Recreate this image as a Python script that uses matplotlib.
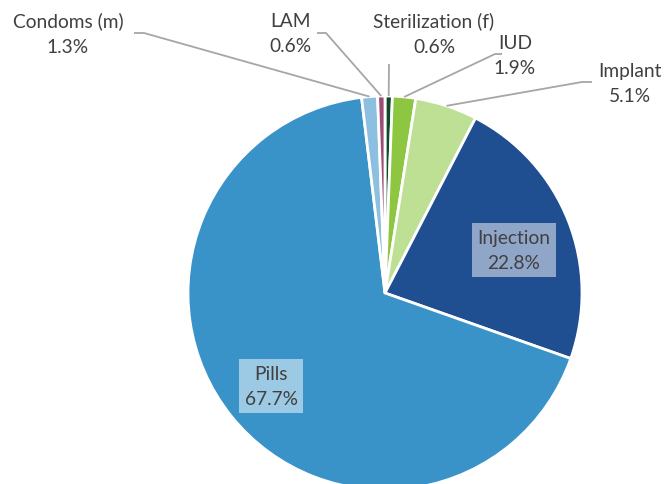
import numpy as np
import matplotlib
matplotlib.use("Agg")
import matplotlib.pyplot as plt

# slices in clockwise order from 12 o'clock
labels = ["Sterilization (f)", "IUD", "Implant", "Injection", "Pills", "Condoms (m)", "LAM"]
shares = [0.6, 1.9, 5.1, 22.8, 67.7, 1.3, 0.6]
colors = ["#0E4A28", "#8DC641", "#BEE095", "#1F4E91", "#3A93C8", "#8DC0E0", "#9E4C76"]

W, H = 665, 485
cx, cy, R = 385, 294, 197
txt_color = "#404040"
line_color = "#A6A6A6"

plt.rcParams["font.family"] = ["Lato", "DejaVu Sans"]

fig = plt.figure(figsize=(W / 100, H / 100), dpi=100)
ax = fig.add_axes([0, 0, 1, 1])


def fy(y):
    # convert image-style y (top down) to axis y
    return H - y


ax.pie(shares, colors=colors, center=(cx, fy(cy)), radius=R, startangle=90,
       counterclock=False, wedgeprops=dict(edgecolor="white", linewidth=2))

ax.set_xlim(0, W)
ax.set_ylim(0, H)
ax.set_aspect("equal")
ax.axis("off")

# mid-angle of each slice on the rim (image coordinates)
cum = np.cumsum([0] + shares)
mids = (cum[:-1] + cum[1:]) / 2 / 100 * 360


def rim(i):
    a = np.deg2rad(mids[i])
    return cx + R * np.sin(a), cy - R * np.cos(a)


fs = 13.8
ls = 1.6
pct = [f"{s:.1f}%" for s in shares]

# outside labels: text centre, leader elbow, leader end near text
outside = {
    5: ((68, 34), [(144, 34), (134, 34)]),
    6: ((290, 34), [(326, 34), (317, 34)]),
    0: ((434, 34), [(389, 65)]),
    1: ((515, 56), [(495, 55), (502, 55)]),
    2: ((630, 84), [(582, 83), (592, 83)]),
}
for i, ((tx, ty), pts) in outside.items():
    ax.text(tx, fy(ty), f"{labels[i]}\n{pct[i]}", ha="center", va="center",
            fontsize=fs, color=txt_color, linespacing=ls)
    x0, y0 = rim(i)
    xs = [x0] + [p[0] for p in pts]
    ys = [fy(y0)] + [fy(p[1]) for p in pts]
    ax.plot(xs, ys, color=line_color, lw=1.3, solid_capstyle="butt")

# inside labels with translucent boxes
inside = {3: (514, 251), 4: (271, 387)}
for i, (tx, ty) in inside.items():
    ax.text(tx, fy(ty), f"{labels[i]}\n{pct[i]}", ha="center", va="center",
            fontsize=fs, color=txt_color, linespacing=ls,
            bbox=dict(boxstyle="square,pad=0.28", facecolor="white",
                      edgecolor="none", alpha=0.5))

fig.savefig("out.png", dpi=100)
